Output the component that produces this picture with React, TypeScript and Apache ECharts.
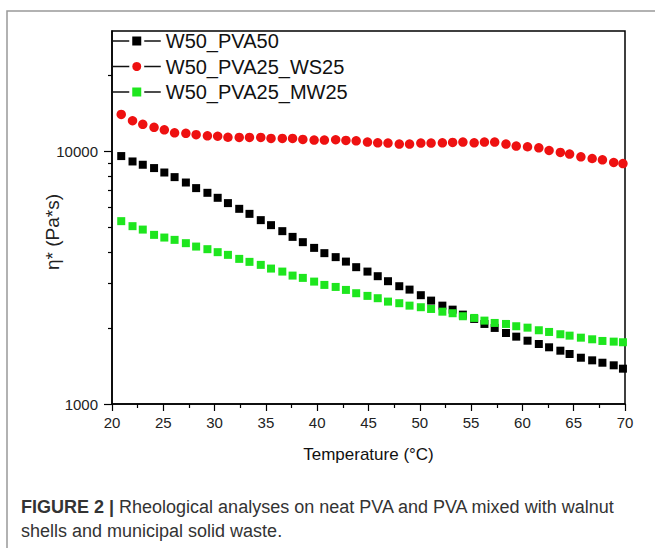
import React, { useEffect, useRef } from "react";
import * as echarts from "echarts";

const temperature = [
  20.9, 22.0, 23.0, 24.1, 25.1, 26.1, 27.2, 28.2, 29.3, 30.3, 31.3, 32.4,
  33.4, 34.5, 35.5, 36.6, 37.6, 38.6, 39.7, 40.7, 41.8, 42.8, 43.8, 44.9,
  45.9, 46.9, 48.0, 49.0, 50.1, 51.1, 52.2, 53.2, 54.2, 55.3, 56.3, 57.3,
  58.4, 59.4, 60.5, 61.6, 62.6, 63.7, 64.6, 65.7, 66.8, 67.8, 68.9, 69.8,
];

const etaPVA50 = [
  9590, 9130, 8860, 8595, 8255, 7915, 7535, 7160, 6860, 6555, 6245, 5928,
  5662, 5347, 5108, 4836, 4590, 4374, 4152, 3957, 3816, 3664, 3482, 3345,
  3207, 3064, 2927, 2838, 2697, 2567, 2452, 2364, 2259, 2172, 2075, 2001,
  1911, 1848, 1781, 1728, 1677, 1626, 1578, 1525, 1489, 1457, 1423, 1380,
];

const etaWS25 = [
  14020, 13235, 12815, 12470, 12190, 11860, 11805, 11650, 11540, 11490, 11385, 11365,
  11365, 11365, 11260, 11260, 11260, 11160, 11095, 11095, 11130, 11055, 11025, 10895,
  10825, 10795, 10700, 10700, 10795, 10795, 10825, 10855, 10895, 10825, 10895, 10895,
  10700, 10505, 10440, 10345, 10090, 9910, 9765, 9528, 9380, 9270, 9045, 8960,
];

const etaMW25 = [
  5298, 5061, 4906, 4675, 4562, 4467, 4334, 4202, 4103, 3993, 3896, 3756,
  3655, 3556, 3438, 3345, 3225, 3158, 3053, 2962, 2908, 2830, 2746, 2680,
  2624, 2544, 2507, 2452, 2417, 2379, 2321, 2288, 2226, 2192, 2139, 2094,
  2075, 2032, 2006, 1959, 1929, 1889, 1865, 1831, 1804, 1777, 1766, 1756,
];

const seriesNames = ["W50_PVA50", "W50_PVA25_WS25", "W50_PVA25_MW25"];
const majorYTicks = [1000, 10000];
const minorYTicks = [2000, 3000, 4000, 5000, 6000, 7000, 8000, 9000, 20000];

const FONT = "Liberation Sans, Arial, sans-serif";

export default function App() {
  const ref = useRef<HTMLDivElement>(null);

  useEffect(() => {
    if (!ref.current) return;
    const chart = echarts.init(ref.current, undefined, { renderer: "svg" });
    const toPts = (vals: number[]) => temperature.map((t, i) => [t, vals[i]]);
    const gridPos = { left: 112, top: 31, right: 30, bottom: 144 };

    const mk = (name: string, vals: number[], symbol: string, size: number, color: string) => ({
      name,
      type: "line",
      xAxisIndex: 0,
      yAxisIndex: 0,
      data: toPts(vals),
      symbol,
      symbolSize: size,
      showSymbol: true,
      showAllSymbol: true,
      itemStyle: { color, borderWidth: 0 },
      lineStyle: { opacity: 0, width: 0 },
      emphasis: { disabled: true },
      z: 3,
    });

    chart.setOption({
      animation: false,
      backgroundColor: "#fff",
      textStyle: { fontFamily: FONT },
      grid: [
        { ...gridPos, show: true, borderColor: "#000", borderWidth: 1.5, backgroundColor: "transparent" },
        { ...gridPos, show: false },
      ],
      legend: {
        orient: "vertical",
        left: 112,
        top: 31,
        padding: 0,
        itemWidth: 48,
        itemHeight: 15,
        itemGap: 5.5,
        data: seriesNames,
        textStyle: { fontSize: 20, color: "#111", fontFamily: FONT, lineHeight: 20 },
        lineStyle: { color: "#111", width: 1.5, opacity: 1 },
        itemStyle: { borderColor: "#fff", borderWidth: 3 },
      },
      xAxis: [
        {
          type: "value",
          gridIndex: 0,
          min: 20,
          max: 70,
          interval: 5,
          name: "Temperature (°C)",
          nameLocation: "middle",
          nameGap: 42,
          nameTextStyle: { fontSize: 17, color: "#111", fontFamily: FONT },
          axisLine: { show: true, lineStyle: { color: "#000", width: 1.5 } },
          axisTick: { show: true, inside: false, length: 7, lineStyle: { color: "#000", width: 1.2 } },
          minorTick: { show: true, splitNumber: 2, length: 4, lineStyle: { color: "#000", width: 1.2 } },
          axisLabel: { fontSize: 15, color: "#222", margin: 11, fontFamily: FONT },
          splitLine: { show: false },
          minorSplitLine: { show: false },
        },
        {
          type: "value",
          gridIndex: 1,
          min: 20,
          max: 70,
          show: false,
        },
      ],
      yAxis: [
        {
          type: "log",
          gridIndex: 0,
          logBase: 10,
          min: 1000,
          max: 30000,
          name: "η* (Pa*s)",
          nameLocation: "middle",
          nameRotate: 90,
          nameGap: 50,
          nameMoveOverlap: false,
          nameTextStyle: { fontSize: 19, color: "#222", fontFamily: FONT, padding: [0, 29, 0, 0] },
          axisLine: { show: true, lineStyle: { color: "#000", width: 1.5 } },
          axisTick: { show: true, inside: false, length: 8, customValues: majorYTicks, lineStyle: { color: "#000", width: 1.2 } },
          axisLabel: {
            fontSize: 15,
            color: "#222",
            margin: 14,
            fontFamily: FONT,
            customValues: majorYTicks,
            formatter: (v: number) => String(Math.round(v)),
          },
          splitLine: { show: false },
        },
        {
          type: "log",
          gridIndex: 1,
          logBase: 10,
          min: 1000,
          max: 30000,
          position: "left",
          axisLine: { show: false },
          axisTick: { show: true, inside: false, length: 4, customValues: minorYTicks, lineStyle: { color: "#000", width: 1.2 } },
          axisLabel: { show: false },
          splitLine: { show: false },
        },
      ],
      series: [
        mk(seriesNames[0], etaPVA50, "rect", 8, "#000000"),
        mk(seriesNames[1], etaWS25, "circle", 9.5, "#ee1111"),
        mk(seriesNames[2], etaMW25, "rect", 8, "#1ee61e"),
      ],
      graphic: [
        {
          type: "rect",
          z: -10,
          shape: { x: 7, y: 11, width: 700, height: 600 },
          style: { fill: "none", stroke: "#999", lineWidth: 1.5 },
          silent: true,
        },
        {
          type: "text",
          left: 21,
          top: 495,
          style: {
            text: "{b|FIGURE 2 |} {n|Rheological analyses on neat PVA and PVA mixed with walnut}\n{n|shells and municipal solid waste.}",
            rich: {
              b: { fontSize: 18, fontWeight: "bold", fill: "#333", fontFamily: FONT, lineHeight: 24 },
              n: { fontSize: 18, fill: "#333", fontFamily: FONT, lineHeight: 24 },
            },
            fontSize: 18,
            fill: "#333",
            fontFamily: FONT,
            lineHeight: 24,
          },
        },
      ],
    });

    return () => chart.dispose();
  }, []);

  return (
    <div
      ref={ref}
      style={{ position: "fixed", left: 0, top: 0, width: 655, height: 548, background: "#fff" }}
    />
  );
}
